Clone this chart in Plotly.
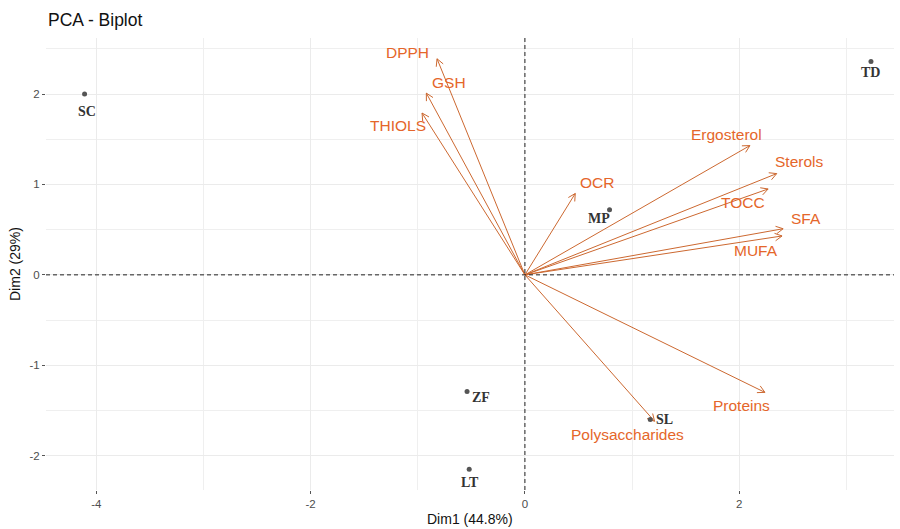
import math
import plotly.graph_objects as go

# ---- data ----
ind_names = ["SC", "TD", "MP", "ZF", "LT", "SL"]
ind_x = [-4.11, 3.23, 0.79, -0.54, -0.52, 1.17]
ind_y = [2.00, 2.36, 0.72, -1.29, -2.15, -1.60]

var_names = ["DPPH", "GSH", "THIOLS", "Ergosterol", "Sterols", "TOCC",
             "SFA", "MUFA", "OCR", "Proteins", "Polysaccharides"]
var_x = [-0.82, -0.92, -0.96, 2.10, 2.35, 2.27, 2.41, 2.40, 0.47, 2.24, 1.21]
var_y = [2.39, 2.01, 1.79, 1.43, 1.12, 0.95, 0.51, 0.43, 0.90, -1.30, -1.62]

x_tick_vals = [-4, -2, 0, 2]
x_tick_text = ["-4", "-2", "0", "2"]
y_tick_vals = [-2, -1, 0, 1, 2]
y_tick_text = ["-2", "-1", "0", "1", "2"]

# ---- layout / style ----
W, H = 900, 529
M = dict(l=46, r=6, t=38, b=39)
XR = [-4.47, 3.445]
YR = [-2.38, 2.62]
pw = W - M["l"] - M["r"]
ph = H - M["t"] - M["b"]
sx = pw / (XR[1] - XR[0])
sy = ph / (YR[1] - YR[0])

ORANGE_TXT = "#E5662A"
ORANGE_LN = "#CC6830"

# label placement (repel-like), in data units
var_label_pos = {
    "DPPH": (-1.10, 2.46), "GSH": (-0.71, 2.13), "THIOLS": (-1.18, 1.65),
    "Ergosterol": (1.88, 1.55), "Sterols": (2.56, 1.25), "TOCC": (2.04, 0.80),
    "SFA": (2.62, 0.62), "MUFA": (2.16, 0.27), "OCR": (0.67, 1.02),
    "Proteins": (2.02, -1.45), "Polysaccharides": (0.96, -1.77),
}
# point label pixel offsets (dx, dy-up)
ind_label_shift = {
    "SC": (2, -17), "TD": (0, -11), "MP": (-11, -9), "ZF": (14, -6),
    "LT": (1, -13), "SL": (14, 0),
}

fig = go.Figure()

# arrow shafts and heads
lx, ly = [], []
L = 8.0
ang = math.radians(28)
for x, y in zip(var_x, var_y):
    lx += [0, x, None]
    ly += [0, y, None]
    th = math.atan2(y * sy, x * sx)
    for s in (1, -1):
        bx = x - L * math.cos(th + s * ang) / sx
        by = y - L * math.sin(th + s * ang) / sy
        lx += [x, bx, None]
        ly += [y, by, None]

fig.add_trace(go.Scatter(x=lx, y=ly, mode="lines",
                         line=dict(color=ORANGE_LN, width=1),
                         hoverinfo="skip", showlegend=False))

# individuals
fig.add_trace(go.Scatter(x=ind_x, y=ind_y, mode="markers",
                         marker=dict(color="#555555", size=5),
                         text=ind_names, showlegend=False))

annotations = []
for n, x, y in zip(ind_names, ind_x, ind_y):
    dx, dy = ind_label_shift[n]
    annotations.append(dict(x=x, y=y, xref="x", yref="y", text=f"<b>{n}</b>",
                            showarrow=False, xshift=dx, yshift=dy,
                            font=dict(family="Liberation Serif", size=14, color="#333333")))
for n in var_names:
    px_, py_ = var_label_pos[n]
    annotations.append(dict(x=px_, y=py_, xref="x", yref="y", text=n,
                            showarrow=False,
                            font=dict(family="Liberation Sans", size=15.5, color=ORANGE_TXT)))

# axis titles
annotations.append(dict(x=0.5, y=-(519 - (H - M["b"])) / ph, xref="paper", yref="paper",
                        text="Dim1 (44.8%)", showarrow=False, yanchor="middle",
                        font=dict(family="Liberation Sans", size=14, color="#111111")))
annotations.append(dict(x=(15 - M["l"]) / pw, y=0.5, xref="paper", yref="paper",
                        text="Dim2 (29%)", showarrow=False, textangle=-90,
                        xanchor="center", yanchor="middle",
                        font=dict(family="Liberation Sans", size=14, color="#111111")))
annotations.append(dict(x=0, y=(ph + M["t"] - 20) / ph,
                        xref="paper", yref="paper", text="PCA - Biplot", showarrow=False,
                        xanchor="left", yanchor="middle",
                        font=dict(family="Liberation Sans", size=17.5, color="#111111")))

fig.update_layout(
    width=W, height=H, margin=M,
    plot_bgcolor="white", paper_bgcolor="white",
    annotations=annotations,
    shapes=[
        dict(type="line", xref="x", yref="paper", x0=0, x1=0, y0=0, y1=1,
             line=dict(color="#222222", width=1, dash="4px,3px")),
        dict(type="line", xref="paper", yref="y", x0=0, x1=1, y0=0, y1=0,
             line=dict(color="#222222", width=1, dash="4px,3px")),
    ],
    xaxis=dict(range=XR, tickvals=x_tick_vals, ticktext=x_tick_text,
               showgrid=True, gridcolor="#EBEBEB",
               gridwidth=1, zeroline=False, showline=False,
               ticks="outside", ticklen=3, tickcolor="#555555",
               tickfont=dict(family="Liberation Sans", size=11.5, color="#4D4D4D"),
               minor=dict(tickvals=[-3, -1, 1, 3], showgrid=True, gridcolor="#EFEFEF", gridwidth=1)),
    yaxis=dict(range=YR, tickvals=y_tick_vals, ticktext=y_tick_text,
               showgrid=True, gridcolor="#EBEBEB",
               gridwidth=1, zeroline=False, showline=False,
               ticks="outside", ticklen=3, tickcolor="#555555",
               tickfont=dict(family="Liberation Sans", size=11.5, color="#4D4D4D"),
               minor=dict(tickvals=[-2.5, -1.5, -0.5, 0.5, 1.5, 2.5], showgrid=True,
                          gridcolor="#EFEFEF", gridwidth=1)),
)

fig.write_html("out.html", config={"displayModeBar": False},
               post_script="document.body.style.margin='0';")
